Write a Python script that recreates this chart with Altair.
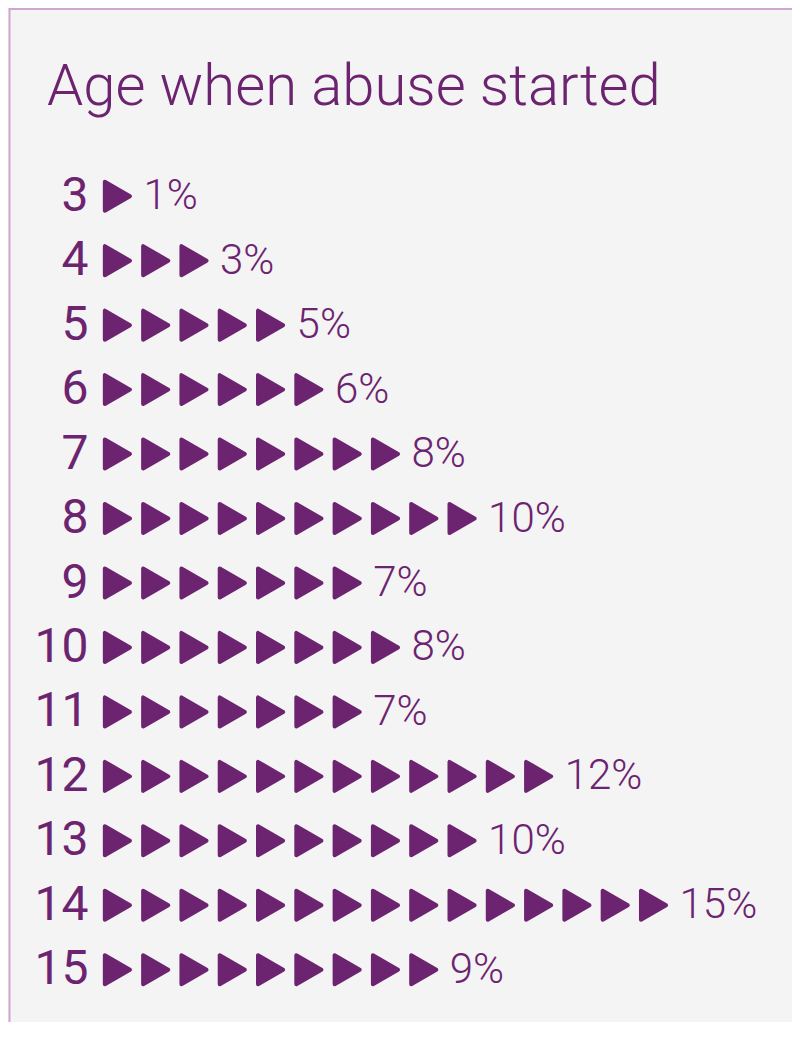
import altair as alt
import pandas as pd

# ---- data ----
ages = [3, 4, 5, 6, 7, 8, 9, 10, 11, 12, 13, 14, 15]
percents = [1, 3, 5, 6, 8, 10, 7, 8, 7, 12, 10, 15, 9]
icon_counts = [1, 3, 5, 6, 8, 10, 7, 8, 7, 12, 10, 15, 9]
title_text = ["Age when abuse started"]

PURPLE = "#6c2370"
BORDER = "#cfa6cf"
BG = "#f4f4f4"
FONT = "Roboto"

# build tables from the arrays
icon_rows = []
for a, n in zip(ages, icon_counts):
    for i in range(n):
        icon_rows.append({"age": str(a), "idx": i})
icons = pd.DataFrame(icon_rows)
labels = pd.DataFrame({
    "age": [str(a) for a in ages],
    "pct": percents,
    "n": icon_counts,
})
labels["label"] = labels["pct"].astype(str) + "%"

W = 699
H = 838
age_order = [str(a) for a in ages]

x_scale = alt.Scale(domain=[-0.637, 17.616], nice=False, zero=False)
y_enc = alt.Y(
    "age:O",
    sort=age_order,
    scale=alt.Scale(type="point", padding=0.5),
    axis=alt.Axis(
        title=None, ticks=False, domain=False, grid=False,
        labelFont=FONT, labelFontSize=48, labelColor=PURPLE,
        labelFontWeight=400, labelPadding=5, labelAlign="right",
        labelBaseline="middle", zindex=2,
    ),
)

frame = alt.Chart(pd.DataFrame({"k": [0]})).mark_rect(
    fill=BG, stroke=BORDER, strokeWidth=2
).encode(
    x=alt.value(-83.5), x2=alt.value(W + 40),
    y=alt.value(-155), y2=alt.value(H + 200),
)

title = alt.Chart(pd.DataFrame({"t": title_text})).mark_text(
    align="left", baseline="alphabetic", font=FONT, fontWeight=300,
    fontSize=58, color=PURPLE,
).encode(text="t:N", x=alt.value(-46), y=alt.value(-59))

marks = alt.Chart(icons).mark_point(
    shape="triangle-right", filled=True, fill=PURPLE, stroke=PURPLE,
    strokeWidth=4, strokeJoin="round", size=841, opacity=1,
).encode(
    x=alt.X("idx:Q", scale=x_scale, axis=None),
    y=y_enc,
)

pct_text = alt.Chart(labels).transform_calculate(
    lx="datum.n - 0.32"
).mark_text(
    align="left", baseline="middle", font=FONT, fontWeight=300,
    fontSize=42, color=PURPLE,
).encode(
    x=alt.X("lx:Q", scale=x_scale, axis=None),
    y=y_enc,
    text="label:N",
)

chart = alt.layer(frame, title, marks, pct_text).properties(
    width=W,
    height=H,
    padding={"left": 85, "top": 156, "right": 0, "bottom": 20},
    autosize=alt.AutoSizeParams(type="none"),
    background=BG,
).configure_view(stroke=None)

chart.save("out.html", embed_options={"renderer": "svg", "actions": False})
